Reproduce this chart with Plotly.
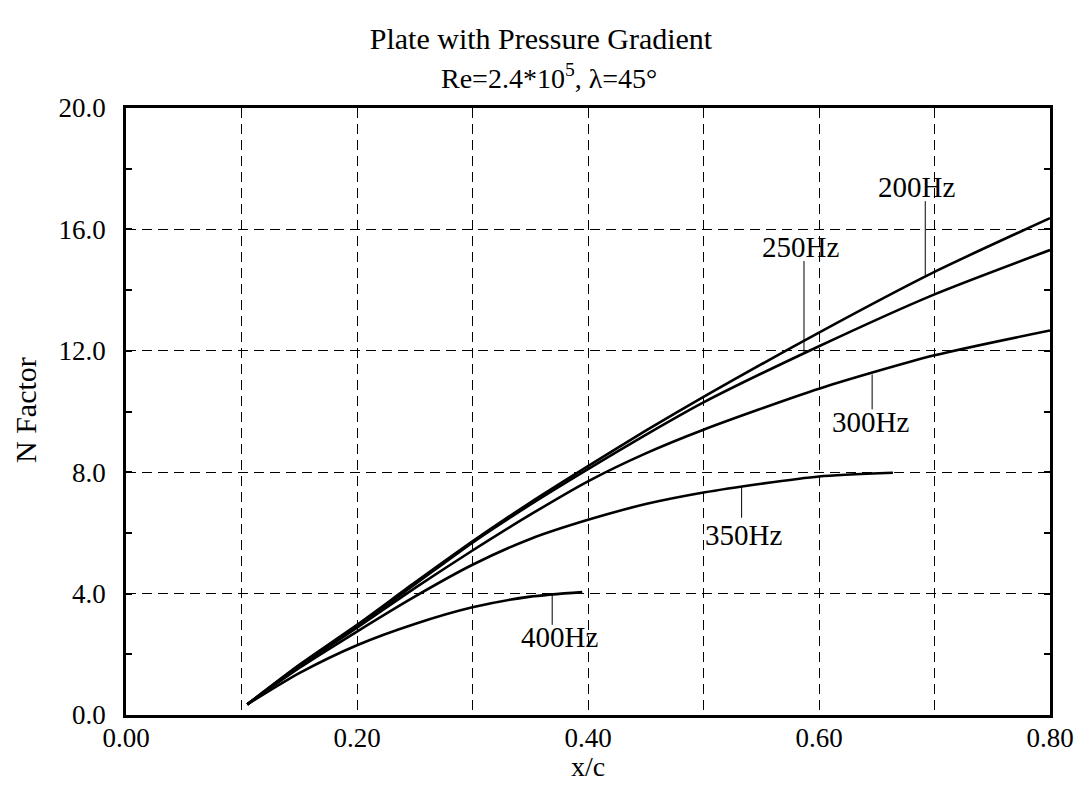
import plotly.graph_objects as go

# ---- data ----
x_200 = [0.105, 0.15, 0.2, 0.25, 0.3, 0.35, 0.4, 0.45, 0.5, 0.6, 0.7, 0.8]
n_200 = [0.35, 1.65, 2.97, 4.36, 5.72, 7.0, 8.2, 9.37, 10.48, 12.6, 14.6, 16.37]

x_250 = [0.105, 0.15, 0.2, 0.25, 0.3, 0.35, 0.4, 0.45, 0.5, 0.6, 0.7, 0.8]
n_250 = [0.35, 1.63, 2.93, 4.3, 5.68, 6.93, 8.1, 9.23, 10.3, 12.15, 13.86, 15.32]

x_300 = [0.105, 0.15, 0.2, 0.25, 0.3, 0.35, 0.4, 0.45, 0.5, 0.6, 0.7, 0.8]
n_300 = [0.35, 1.6, 2.88, 4.18, 5.42, 6.6, 7.7, 8.62, 9.4, 10.75, 11.85, 12.67]

x_350 = [0.105, 0.15, 0.2, 0.25, 0.3, 0.35, 0.4, 0.45, 0.5, 0.55, 0.6, 0.664]
n_350 = [0.35, 1.55, 2.75, 3.9, 4.95, 5.8, 6.43, 6.95, 7.33, 7.62, 7.86, 7.98]

x_400 = [0.105, 0.15, 0.2, 0.25, 0.3, 0.35, 0.395]
n_400 = [0.35, 1.38, 2.3, 3.0, 3.55, 3.9, 4.05]

series = [
    ("200Hz", x_200, n_200),
    ("250Hz", x_250, n_250),
    ("300Hz", x_300, n_300),
    ("350Hz", x_350, n_350),
    ("400Hz", x_400, n_400),
]

# curve labels: text position and leader line (x, from curve y to y end)
label_text = ["200Hz", "250Hz", "300Hz", "350Hz", "400Hz"]
label_x = [0.684, 0.584, 0.645, 0.535, 0.375]
label_y = [17.39, 15.41, 9.64, 5.94, 2.57]
leader_x = [0.692, 0.587, 0.646, 0.533, 0.369]
leader_y0 = [14.45, 11.95, 11.22, 7.52, 3.96]
leader_y1 = [16.93, 14.96, 10.07, 6.50, 2.97]

y_tickvals = [0, 4, 8, 12, 16, 20]
y_ticktext = ["0.0", "4.0", "8.0", "12.0", "16.0", "20.0"]

FONT = "Liberation Serif, Times New Roman, serif"

fig = go.Figure()
for name, xs, ys in series:
    fig.add_trace(go.Scatter(x=xs, y=ys, mode="lines", name=name,
                             line=dict(color="black", width=2.6, shape="spline", smoothing=0.7),
                             showlegend=False, hoverinfo="skip"))

for lx, y0, y1 in zip(leader_x, leader_y0, leader_y1):
    fig.add_trace(go.Scatter(x=[lx, lx], y=[y0, y1], mode="lines",
                             line=dict(color="black", width=1),
                             showlegend=False, hoverinfo="skip"))

for t, lx, ly in zip(label_text, label_x, label_y):
    fig.add_annotation(x=lx, y=ly, text=t, showarrow=False,
                       font=dict(family=FONT, size=29, color="black"),
                       xanchor="center", yanchor="middle")

# subtitle
fig.add_annotation(xref="paper", yref="paper", x=(549 - 126) / 924, y=(715 - 77) / 607,
                   text="Re=2.4*10<sup>5</sup>, λ=45°", showarrow=False,
                   font=dict(family=FONT, size=28, color="black"),
                   xanchor="center", yanchor="middle")
# axis titles
fig.add_annotation(xref="paper", yref="paper", x=(588 - 126) / 924, y=(715 - 766) / 607,
                   text="x/c", showarrow=False,
                   font=dict(family=FONT, size=28, color="black"),
                   xanchor="center", yanchor="middle", borderpad=0)
fig.add_annotation(xref="paper", yref="paper", x=(25 - 126) / 924, y=(715 - 410) / 607,
                   text="N Factor", showarrow=False, textangle=-90,
                   font=dict(family=FONT, size=30, color="black"),
                   xanchor="center", yanchor="middle")

fig.update_layout(
    width=1067, height=777,
    paper_bgcolor="white", plot_bgcolor="white",
    margin=dict(l=118, r=25, t=100, b=70, autoexpand=False),
    title=dict(text="Plate with Pressure Gradient", x=(541 - 8) / 1067, xref="container",
               y=1 - 30 / 777, yref="container", xanchor="center", yanchor="middle",
               font=dict(family=FONT, size=30, color="black")),
    font=dict(family=FONT, color="black"),
)

fig.update_xaxes(
    range=[0, 0.8], dtick=0.2, tick0=0, tickformat=".2f",
    showgrid=True, gridcolor="black", gridwidth=1, griddash="10px,6px",
    minor=dict(dtick=0.1, tick0=0, showgrid=True, gridcolor="black", gridwidth=1,
               griddash="10px,6px", ticks=""),
    showline=True, linecolor="black", linewidth=2.5, mirror=True,
    ticks="", tickfont=dict(family=FONT, size=27, color="black"),
    ticklabelstandoff=-3, zeroline=False, automargin=False,
)
fig.update_yaxes(
    range=[0, 20], tickvals=y_tickvals, ticktext=y_ticktext,
    showgrid=True, gridcolor="black", gridwidth=1, griddash="10px,6px",
    showline=True, linecolor="black", linewidth=2.5, mirror="ticks",
    ticks="inside", ticklen=6, tickwidth=2, tickcolor="black",
    minor=dict(dtick=2, ticks="inside", ticklen=6, tickwidth=2, tickcolor="black", showgrid=False),
    tickfont=dict(family=FONT, size=27, color="black"),
    ticklabelstandoff=12, zeroline=False, automargin=False,
)

fig.write_html("out.html")
